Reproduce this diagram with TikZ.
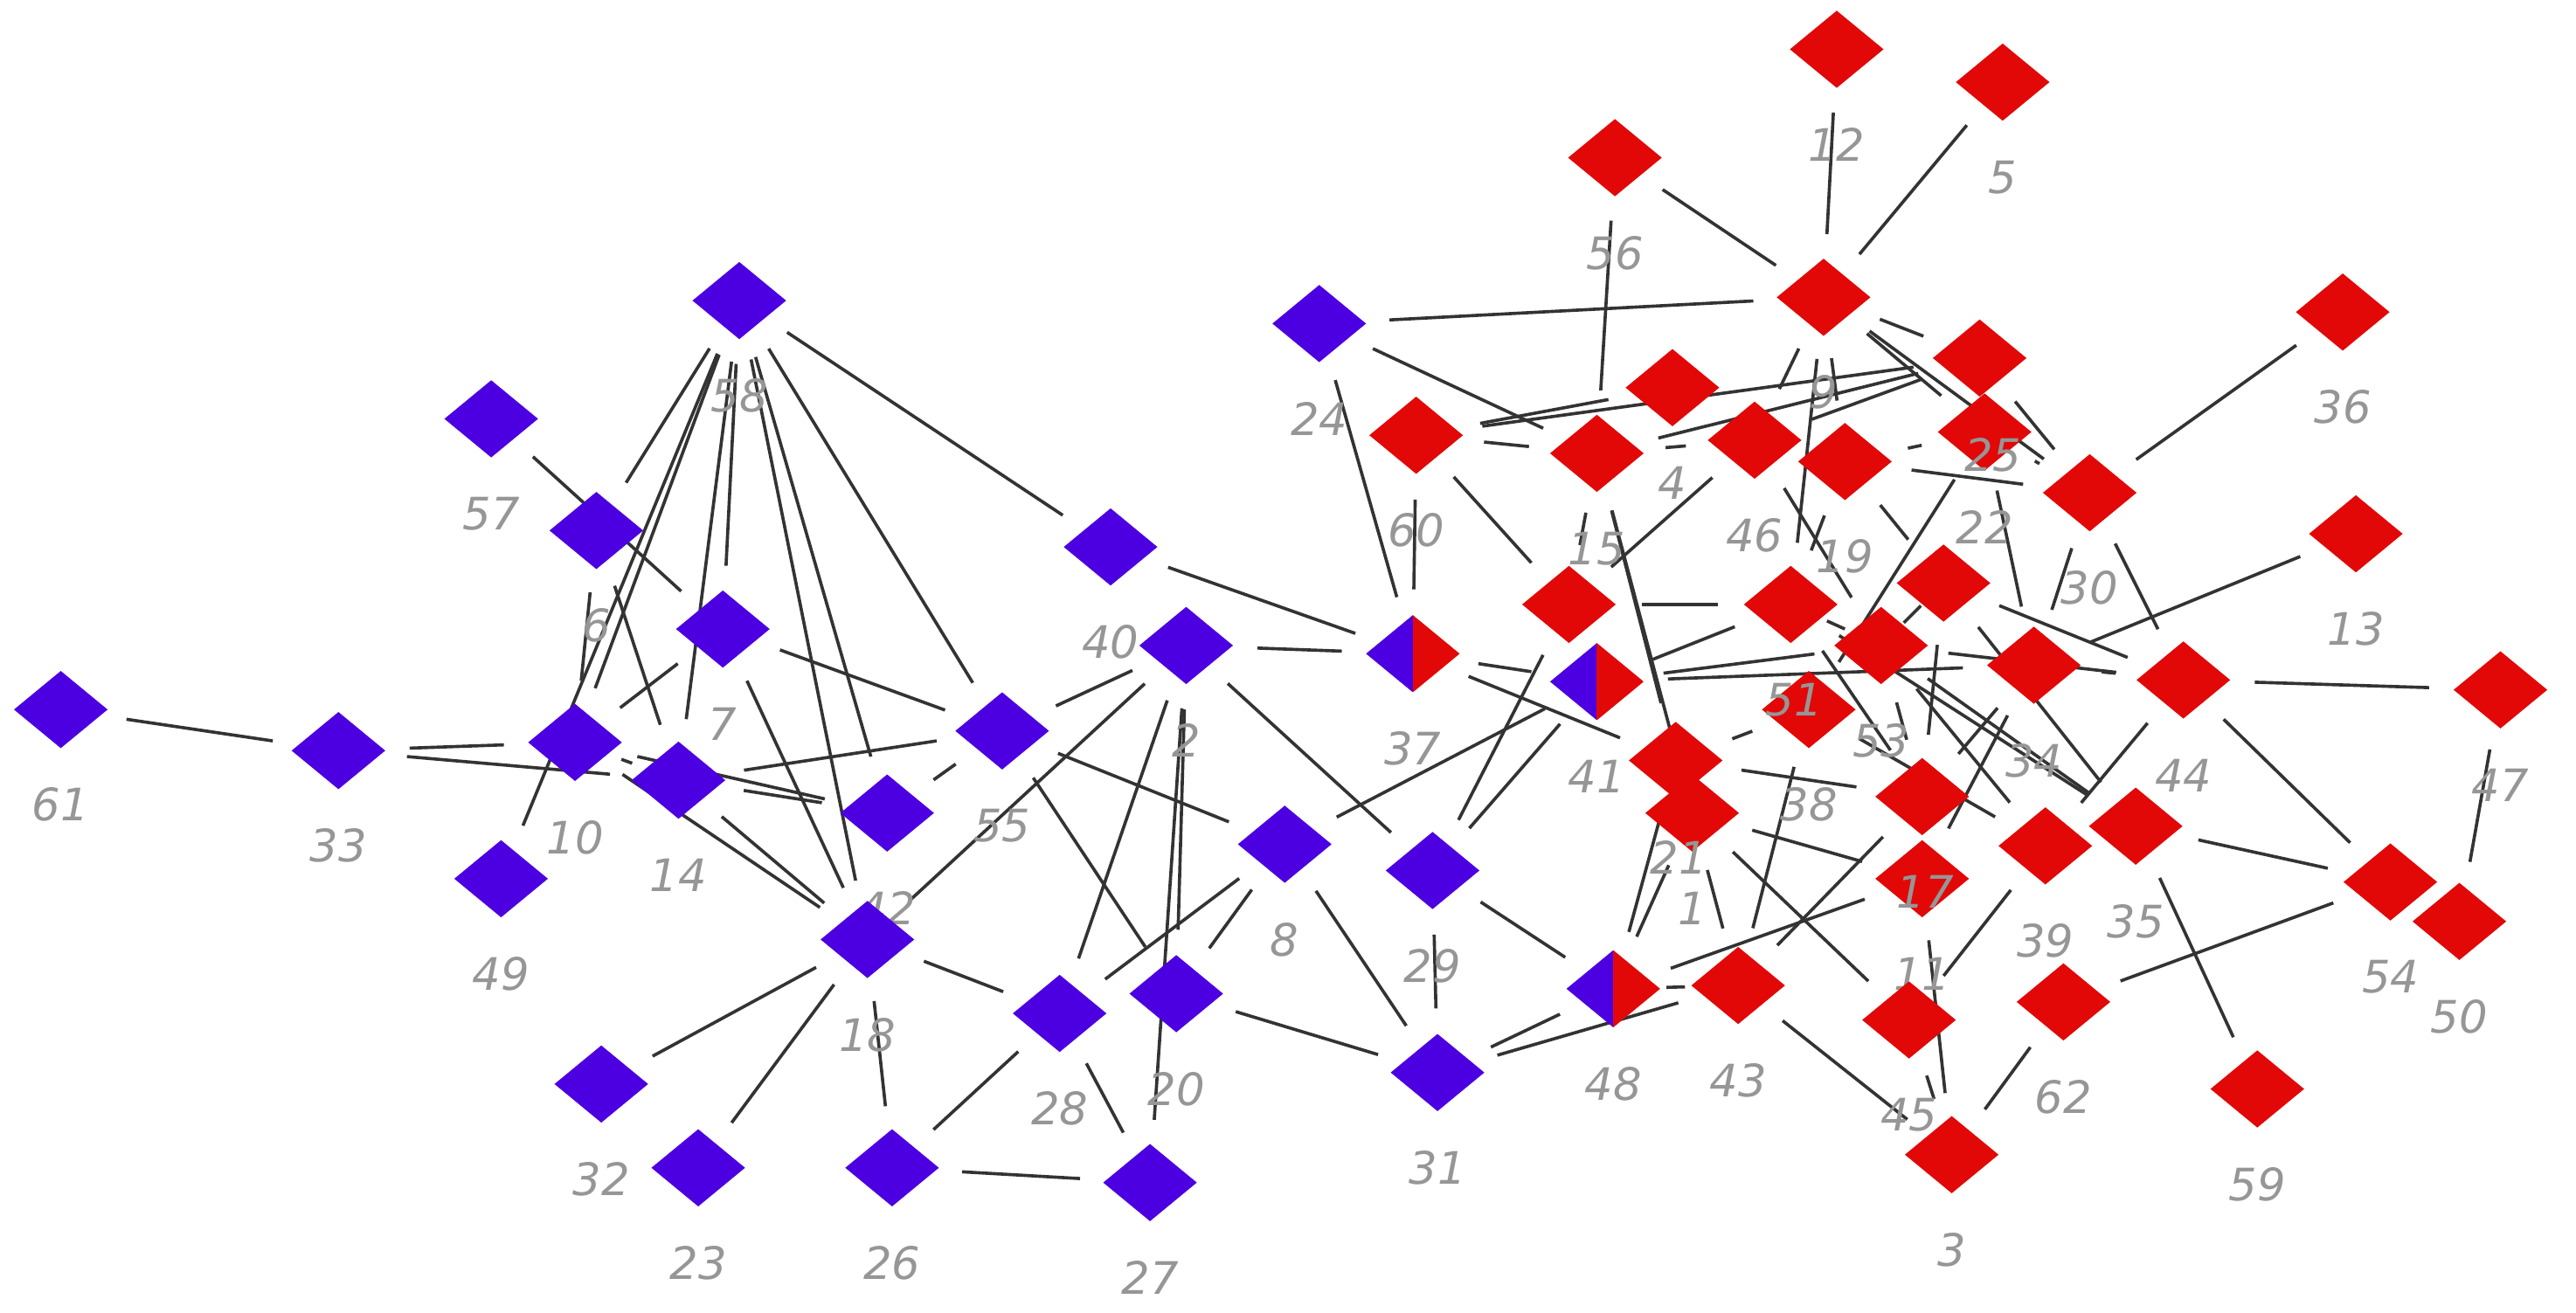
\documentclass[tikz,border=0pt]{standalone}
\usepackage{fontspec}
\usetikzlibrary{shapes.geometric,backgrounds}
\newfontfamily\labfont{DejaVu Sans}
\definecolor{bcol}{RGB}{76,0,226}
\definecolor{rcol}{RGB}{226,8,8}
\definecolor{lcol}{RGB}{150,150,150}
\begin{document}
\begin{tikzpicture}[x=0.02cm,y=-0.02cm,
  dia/.style={diamond, minimum width=1.14cm, minimum height=0.94cm, inner sep=0pt, outer sep=0pt},
  bn/.style={dia, fill=bcol},
  rn/.style={dia, fill=rcol},
  hn/.style={dia, path picture={
     \fill[bcol] (path picture bounding box.south west) rectangle (path picture bounding box.north);
     \fill[rcol] (path picture bounding box.south) rectangle (path picture bounding box.north east);}},
  lab/.style={text=lcol, font=\labfont\itshape\fontsize{15.5}{17}\selectfont, inner sep=0pt},
  lb/.style={label={[lab,yshift=-1.16cm]center:#1}},
  ed/.style={draw=black!80, line width=1.1pt, shorten <=0.32cm, shorten >=0.32cm}]
\useasboundingbox (0,0) rectangle (1568,799);
% ---- nodes (blue)
\node[bn,lb=61] (n61) at (37,432) {};
\node[bn,lb=33] (n33) at (206,457) {};
\node[bn,lb=10] (n10) at (350,452) {};
\node[bn,lb=14] (n14) at (413,475) {};
\node[bn,lb=49] (n49) at (305,535) {};
\node[bn,lb=57] (n57) at (299,255) {};
\node[bn,lb=58] (n58) at (450,183) {};
\node[bn,lb=6] (n6) at (363,323) {};
\node[bn,lb=7] (n7) at (440,383) {};
\node[bn,lb=42] (n42) at (540,495) {};
\node[bn,lb=55] (n55) at (610,445) {};
\node[bn,lb=40] (n40) at (676,333) {};
\node[bn,lb=2] (n2) at (722,393) {};
\node[bn,lb=8] (n8) at (782,514) {};
\node[bn,lb=29] (n29) at (872,530) {};
\node[bn,lb=18] (n18) at (528,572) {};
\node[bn,lb=28] (n28) at (645,617) {};
\node[bn,lb=20] (n20) at (716,605) {};
\node[bn,lb=32] (n32) at (366,660) {};
\node[bn,lb=23] (n23) at (425,711) {};
\node[bn,lb=26] (n26) at (543,711) {};
\node[bn,lb=27] (n27) at (700,720) {};
\node[bn,lb=31] (n31) at (875,653) {};
\node[bn,lb=24] (n24) at (803,197) {};
% ---- half nodes
\node[hn,lb=37] (h37) at (860,398) {};
\node[hn,lb=41] (h41) at (972,415) {};
\node[hn,lb=48] (h48) at (982,602) {};
% ---- red nodes
\node[rn,lb=60] (r60) at (862,265) {};
\node[rn,lb=56] (r56) at (983,96) {};
\node[rn,lb=12] (r12) at (1118,30) {};
\node[rn,lb=5] (r5) at (1219,50) {};
\node[rn,lb=9] (r9) at (1110,181) {};
\node[rn,lb=4] (r4) at (1018,236) {};
\node[rn] (r25) at (1205,218) {};
\node[rn,lb=15] (r15) at (972,276) {};
\node[rn,lb=46] (r46) at (1068,268) {};
\node[rn,lb=19] (r19) at (1123,281) {};
\node[rn,lb=30] (r30) at (1272,300) {};
\node[rn,lb=36] (r36) at (1426,190) {};
\node[rn,lb=13] (r13) at (1434,325) {};
\node[rn] (rN) at (955,368) {};
\node[rn] (rO) at (1090,368) {};
\node[rn] (rQ) at (1183,355) {};
\node[rn] (rR) at (1145,393) {};
\node[rn,lb=34] (rS) at (1238,405) {};
\node[rn,lb=44] (r44) at (1329,414) {};
\node[rn,lb=47] (r47) at (1522,420) {};
\node[rn] (rV) at (1020,463) {};
\node[rn,lb=1] (rW) at (1030,495) {};
\node[rn] (rX) at (1170,485) {};
\node[rn,lb=11] (rY) at (1170,535) {};
\node[rn,lb=39] (r39) at (1245,515) {};
\node[rn,lb=35] (r35) at (1300,503) {};
\node[rn,lb=54] (r54) at (1455,537) {};
\node[rn,lb=50] (r50) at (1497,561) {};
\node[rn,lb=43] (r43) at (1058,600) {};
\node[rn,lb=45] (r45) at (1162,621) {};
\node[rn,lb=62] (r62) at (1256,610) {};
\node[rn,lb=59] (r59) at (1374,663) {};
\node[rn,lb=3] (r3) at (1188,703) {};
\node[rn,lb=22] (r22) at (1208,263) {};
\node[rn,lb=38] (rP) at (1101,432) {};
% labels drawn over neighbouring nodes
\node[lab] (l25) at (1213,277) {25};
\node[lab] (l51) at (1092,426) {51};
\node[lab] (l53) at (1145,451) {53};
\node[lab] (l21) at (1022,522) {21};
\node[lab] (l17) at (1172,543) {17};
% ---- edges
\begin{scope}[on background layer]
\foreach \a/\b in {n61/n33, n33/n10, n33/n14, n57/n7, n58/n6, n58/n10, n58/n49, n58/n7, n58/n14,
  n58/n42, n58/n18, n58/n55, n58/n40, n6/n10, n6/n14, n10/n7, n10/n14, n10/n42, n14/n42, n14/n18,
  n10/n18, n7/n18, n7/n55, n14/n55, n55/n42, n55/n8, n55/n20, n2/n55, n2/h37, n40/h37, n2/n18,
  n2/n28, n2/n20, n2/n27, n2/n29, n8/n28, n8/n20, n8/n31, n8/h41, n29/n31, n29/h48, n29/h41,
  n29/rN, n20/n31, n18/n28, n18/n26, n18/n32, n18/n23, n28/n26, n28/n27, n26/n27, n31/h48,
  n31/r43, n24/r9, n24/r15, n24/h37, r60/h37, r60/rN, r60/r15, r60/r4, h37/h41, h37/rV}
  \draw[ed] (\a) -- (\b);
\foreach \a/\b in {r56/r9, r12/r9, r5/r9, r56/r15, r9/r25, r9/r22, r9/r30, r9/r46, r9/r19, r9/rO,
  r15/r46, r15/r25, r46/r25, r60/r25, r25/r30, r22/r30, r19/r22, r19/r30, r46/rR, r22/rP, r19/rO,
  r15/rV, r15/rW, r15/rN, r46/rN, r36/r30, r13/rS, r30/r44, r30/rS, r22/rS, rS/r44, rR/r44,
  r44/r47, r44/r54, r44/r39, r47/r50, r35/r54, r54/r62, r35/r59, r39/r45, r62/r3, r45/r3,
  rY/r3, r43/r3, h48/r43, h48/rY, r43/rX, rW/r45, h48/rV, h48/rW, r43/rP, rW/r43, h41/rR,
  h41/rS, h41/rO, rN/rO, rO/rR, rO/rX, rR/rX, rQ/rX, rR/r39, rR/r35, rQ/r35, rO/r35, rP/r39,
  rS/rX, rP/rV, rV/rX, rW/rY, rS/rY, rQ/r44, r19/rQ, rQ/rR}
  \draw[ed] (\a) -- (\b);
\end{scope}
\end{tikzpicture}
\end{document}
